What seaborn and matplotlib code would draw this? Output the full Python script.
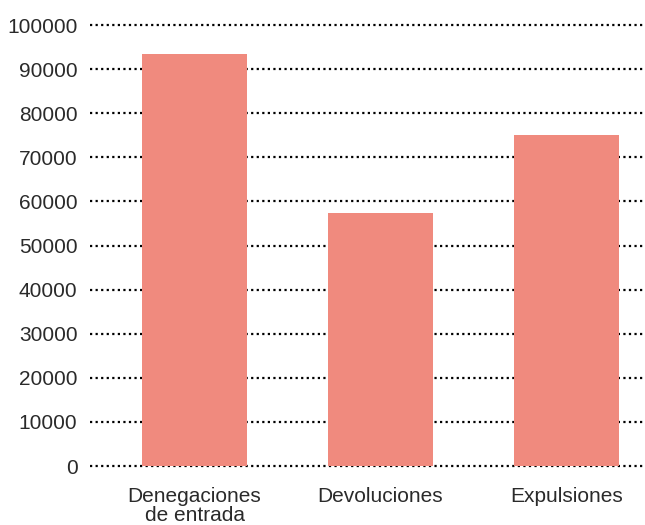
import matplotlib
matplotlib.use("Agg")
import matplotlib.pyplot as plt
import seaborn as sns
import pandas as pd

categories = ["Denegaciones\nde entrada", "Devoluciones", "Expulsiones"]
values = [93400, 57400, 75100]
yticks = [0, 10000, 20000, 30000, 40000, 50000, 60000, 70000, 80000, 90000, 100000]

sns.set_style("white")
plt.rcParams['font.family'] = ['Liberation Sans', 'DejaVu Sans']

df = pd.DataFrame({"cat": categories, "val": values})

fig = plt.figure(figsize=(6.45, 5.25), dpi=100)
ax = fig.add_axes([90/645, (525-470)/525, 1 - 90/645, (470-15)/525])
sns.barplot(data=df, x="cat", y="val", color="#F08A7E", saturation=1, width=0.565,
            ax=ax, zorder=3, linewidth=0, edgecolor="none")

ax.set_xlim(-0.562, 2.422)
ax.set_ylim(-907, 102268)
ax.set_yticks(yticks)
ax.set_yticklabels([str(v) for v in yticks])
ax.yaxis.grid(True, color="black", linestyle=(0, (1, 1.5)), linewidth=1.6, zorder=0)
ax.xaxis.grid(False)
ax.set_axisbelow(True)
for s in ax.spines.values():
    s.set_visible(False)
ax.tick_params(axis="y", length=0, pad=9, labelsize=15, labelcolor="#2a2a2a")
ax.tick_params(axis="x", length=0, pad=12, labelsize=15, labelcolor="#2a2a2a")
ax.set_xlabel("")
ax.set_ylabel("")
for lbl in ax.get_xticklabels():
    lbl.set_linespacing(1.05)

fig.savefig("out.png", dpi=100)
